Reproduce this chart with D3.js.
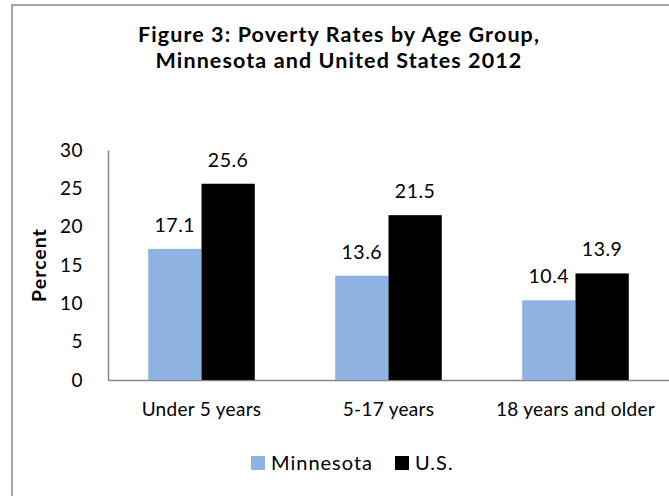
<!DOCTYPE html>
<html>
<head>
<meta charset="utf-8">
<script src="https://cdn.jsdelivr.net/npm/d3@7/dist/d3.min.js"></script>
<style>
  html, body { margin: 0; padding: 0; background: #fff; }
  svg { display: block; font-family: Lato, "Open Sans", sans-serif; }
</style>
</head>
<body>
<svg id="chart" width="669" height="496"></svg>
<script>
const categories = ["Under 5 years", "5-17 years", "18 years and older"];
const seriesNames = ["Minnesota", "U.S."];
const minnesota = [17.1, 13.6, 10.4];
const us = [25.6, 21.5, 13.9];
const yTicks = [0, 5, 10, 15, 20, 25, 30];
const titleLines = ["Figure 3: Poverty Rates by Age Group,", "Minnesota and United States 2012"];
const yLabel = "Percent";
const colors = ["#8DB3E2", "#000000"];

const svg = d3.select("#chart");

// outer frame (right/bottom edges fall outside the crop)
svg.append("rect")
  .attr("x", 12).attr("y", 5)
  .attr("width", 700).attr("height", 520)
  .attr("fill", "#fff").attr("stroke", "#868686").attr("stroke-width", 1.5);

// title
const title = svg.append("text")
  .attr("text-anchor", "middle")
  .attr("font-weight", "bold")
  .attr("font-size", 21.5)
  .attr("letter-spacing", 1.1)
  .attr("fill", "#000");
titleLines.forEach((t, i) => {
  title.append("tspan").attr("x", 339).attr("y", 42 + i * 25.5).text(t);
});

const plot = { left: 108, right: 669, top: 150, bottom: 380 };

const x = d3.scaleBand()
  .domain(categories)
  .range([plot.left, plot.right])
  .paddingInner(0.43)
  .paddingOuter(0.215);

const x1 = d3.scaleBand()
  .domain(seriesNames)
  .range([0, x.bandwidth()]);

const y = d3.scaleLinear().domain([0, 30]).range([plot.bottom, plot.top]);

// y axis
const yAxis = d3.axisLeft(y).tickValues(yTicks).tickSize(0).tickPadding(0).tickFormat(d3.format("d"));
const yg = svg.append("g").attr("transform", `translate(${plot.left},0)`).call(yAxis);
yg.select(".domain").attr("stroke", "#868686").attr("stroke-width", 1.5);
yg.selectAll("text")
  .attr("x", -25)
  .attr("font-size", 19)
  .attr("letter-spacing", 0.5)
  .attr("font-family", "Lato, 'Open Sans', sans-serif")
  .attr("fill", "#000");

// x axis
const xAxis = d3.axisBottom(x).tickSize(0).tickPadding(0);
const xg = svg.append("g").attr("transform", `translate(0,${plot.bottom})`).call(xAxis);
xg.select(".domain").attr("stroke", "#868686").attr("stroke-width", 1.5);
xg.selectAll("text")
  .attr("y", 36)
  .attr("dy", 0)
  .attr("font-size", 19)
  .attr("letter-spacing", 0.3)
  .attr("font-family", "Lato, 'Open Sans', sans-serif")
  .attr("fill", "#000");

// bars
const rows = categories.map((c, i) => ({ cat: c, vals: [minnesota[i], us[i]] }));
const groups = svg.append("g").selectAll("g")
  .data(rows).join("g")
  .attr("transform", d => `translate(${x(d.cat)},0)`);

groups.selectAll("rect")
  .data(d => d.vals.map((v, j) => ({ name: seriesNames[j], v, j })))
  .join("rect")
  .attr("x", d => x1(d.name))
  .attr("y", d => y(d.v))
  .attr("width", x1.bandwidth())
  .attr("height", d => y(0) - y(d.v))
  .attr("fill", d => colors[d.j]);

groups.selectAll("text.val")
  .data(d => d.vals.map((v, j) => ({ name: seriesNames[j], v, j })))
  .join("text")
  .attr("class", "val")
  .attr("x", d => x1(d.name) + x1.bandwidth() / 2)
  .attr("y", d => y(d.v) - 17)
  .attr("text-anchor", "middle")
  .attr("font-size", 19.5)
  .attr("letter-spacing", 0.5)
  .attr("fill", "#000")
  .text(d => d3.format(".1f")(d.v));

// y label
svg.append("text")
  .attr("transform", "translate(46,265) rotate(-90)")
  .attr("text-anchor", "middle")
  .attr("font-weight", "bold")
  .attr("font-size", 19.5)
  .attr("letter-spacing", 1)
  .attr("fill", "#000")
  .text(yLabel);

// legend
const legendItems = [
  { name: seriesNames[0], color: colors[0], x: 251 },
  { name: seriesNames[1], color: colors[1], x: 395 }
];
const lg = svg.append("g");
legendItems.forEach(it => {
  lg.append("rect").attr("x", it.x).attr("y", 456).attr("width", 14).attr("height", 14).attr("fill", it.color);
  lg.append("text").attr("x", it.x + 20).attr("y", 470).attr("font-size", 20).attr("letter-spacing", 1).attr("fill", "#000").text(it.name);
});
</script>
</body>
</html>
